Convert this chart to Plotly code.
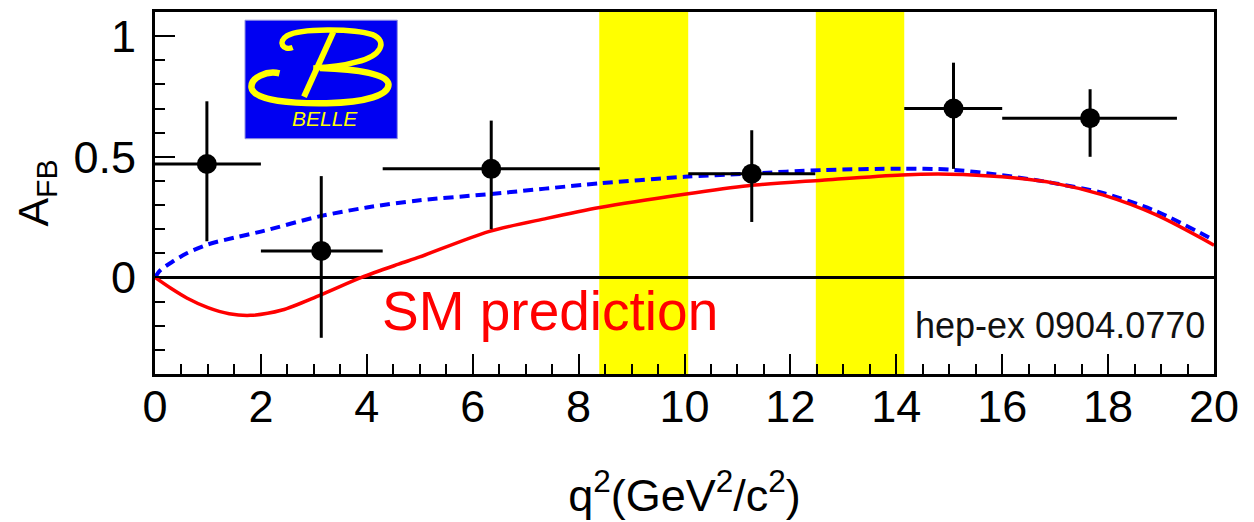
import plotly.graph_objects as go

# Forward-backward asymmetry in B -> K* l+ l- (Belle), binned in q^2
q2_center = [0.98, 3.14, 6.35, 11.27, 15.08, 17.66]
q2_low = [0.0, 2.0, 4.3, 10.07, 14.15, 16.0]
q2_high = [2.0, 4.3, 8.4, 12.47, 16.0, 19.3]
afb = [0.47, 0.11, 0.45, 0.43, 0.70, 0.66]
afb_err_up = [0.26, 0.31, 0.20, 0.18, 0.19, 0.12]
afb_err_down = [0.32, 0.36, 0.25, 0.20, 0.25, 0.16]

# Standard Model prediction
sm_q2 = [0.0, 0.3, 0.6, 1.0, 1.4, 1.8, 2.4, 3.1, 3.9, 4.6, 5.0, 6.3, 7.4, 8.4,
         10.0, 11.2, 12.6, 14.1, 15.0, 16.0, 17.0, 17.9, 18.9, 20.0]
sm_afb = [0.0, -0.045, -0.085, -0.125, -0.15, -0.157, -0.135, -0.075, 0.0, 0.055,
          0.085, 0.19, 0.245, 0.29, 0.345, 0.38, 0.403, 0.425, 0.428, 0.417,
          0.39, 0.342, 0.26, 0.134]

# Flipped-sign C7 hypothesis
alt_q2 = [0.0, 0.1, 0.35, 0.6, 1.0, 1.5, 2.0, 3.1, 4.0, 5.0, 6.3, 8.4, 10.0,
          11.2, 12.6, 14.1, 15.0, 16.0, 17.0, 17.9, 18.9, 20.0]
alt_afb = [0.0, 0.03, 0.068, 0.10, 0.137, 0.165, 0.19, 0.253, 0.29, 0.32, 0.345,
           0.39, 0.417, 0.43, 0.445, 0.451, 0.447, 0.424, 0.39, 0.35, 0.275, 0.155]

# Charmonium veto windows (J/psi, psi')
veto_bands = [(8.39, 10.07), (12.48, 14.15)]

x_tick_vals = [0, 2, 4, 6, 8, 10, 12, 14, 16, 18, 20]
y_tick_vals = [0, 0.5, 1]
y_tick_text = ["0", "0.5", "1"]

FONT = "Liberation Sans, Arial, Helvetica, sans-serif"

fig = go.Figure()

fig.add_trace(go.Scatter(
    x=alt_q2, y=alt_afb, mode="lines",
    line=dict(color="#0000ff", width=4, dash="10px,6px", shape="spline", smoothing=0.8),
    hoverinfo="skip", showlegend=False,
))
fig.add_trace(go.Scatter(
    x=sm_q2, y=sm_afb, mode="lines",
    line=dict(color="#ff0000", width=3.5, shape="spline", smoothing=0.8),
    hoverinfo="skip", showlegend=False,
))

err_x_plus = [h - c for h, c in zip(q2_high, q2_center)]
err_x_minus = [c - l for c, l in zip(q2_center, q2_low)]
fig.add_trace(go.Scatter(
    x=q2_center, y=afb, mode="markers",
    marker=dict(color="black", size=20),
    error_x=dict(type="data", symmetric=False, array=err_x_plus, arrayminus=err_x_minus,
                 color="black", thickness=3, width=0),
    error_y=dict(type="data", symmetric=False, array=afb_err_up, arrayminus=afb_err_down,
                 color="black", thickness=3, width=0),
    showlegend=False,
))

shapes = []
for lo, hi in veto_bands:
    shapes.append(dict(type="rect", xref="x", yref="paper", x0=lo, x1=hi, y0=0, y1=1,
                       fillcolor="#ffff00", line=dict(width=0), layer="below"))

# Belle logo: blue panel with the stylised yellow "B"
LOGO_X0, LOGO_X1 = 1.70, 4.575
LOGO_Y0, LOGO_Y1 = 0.575, 1.066
LOGO_W, LOGO_H = 152.3, 119.3


def lx(d):
    return LOGO_X0 + d / LOGO_W * (LOGO_X1 - LOGO_X0)


def ly(d):
    return LOGO_Y1 - d / LOGO_H * (LOGO_Y1 - LOGO_Y0)


def logo_path(start, curves):
    s = f"M {lx(start[0])},{ly(start[1])}"
    for seg in curves:
        s += " C " + " ".join(f"{lx(a)},{ly(b)}" for a, b in seg)
    return s


shapes.append(dict(type="rect", xref="x", yref="y", x0=LOGO_X0, x1=LOGO_X1,
                   y0=LOGO_Y0, y1=LOGO_Y1, fillcolor="#0000f2",
                   line=dict(color="#9090e0", width=1), layer="above"))

top_loop = logo_path((47.7, 27.5), [
    [(38.3, 31.0), (32.0, 22.0), (42.3, 15.5)],
    [(55, 8.0), (108.3, 8.0), (127.5, 14.5)],
    [(143.0, 21.0), (137, 36), (111.7, 42)],
    [(98.3, 46), (81.7, 47.7), (68.3, 48)],
])
bottom_loop = logo_path((34.5, 53.5), [
    [(21.7, 50.5), (5.5, 57.7), (6.5, 67.7)],
    [(8.5, 81.5), (48.3, 84.0), (81.7, 83.5)],
    [(121.7, 83), (144.5, 75), (143.5, 64.3)],
    [(142.5, 54.3), (115, 49.3), (75, 48)],
])
stem = f"M {lx(88.3)},{ly(12.0)} L {lx(59)},{ly(77)}"
for p, w in [(top_loop, 5.5), (bottom_loop, 6.5), (stem, 6)]:
    shapes.append(dict(type="path", xref="x", yref="y", path=p,
                       line=dict(color="#ffff00", width=w), layer="above"))

annotations = [
    dict(x=(LOGO_X0 + LOGO_X1) / 2 + 0.08, y=ly(99.3), xref="x", yref="y",
         text="<i>BELLE</i>", showarrow=False,
         font=dict(family=FONT, size=21, color="#ffff00")),
    dict(x=7.46, y=-0.14, xref="x", yref="y", text="SM prediction", showarrow=False,
         font=dict(family=FONT, size=55, color="#ff0000")),
    dict(x=17.1, y=-0.2, xref="x", yref="y", text="hep-ex 0904.0770", showarrow=False,
         font=dict(family=FONT, size=36, color="#111111")),
]

fig.update_layout(
    width=1254, height=522,
    margin=dict(l=155, r=40, t=9, b=148),
    paper_bgcolor="white", plot_bgcolor="white",
    font=dict(family=FONT, color="black"),
    shapes=shapes, annotations=annotations,
    xaxis=dict(
        range=[0, 20], showgrid=False, zeroline=False,
        showline=True, linecolor="black", linewidth=3, mirror=True,
        tickmode="array", tickvals=x_tick_vals,
        ticks="inside", ticklen=20, tickwidth=2, tickcolor="black",
        minor=dict(dtick=0.5, ticks="inside", ticklen=10, tickwidth=2, tickcolor="black"),
        tickfont=dict(size=45, family=FONT, color="black"),
        ticklabelstandoff=-9,
        title=dict(text="q<sup>2</sup>(GeV<sup>2</sup>/c<sup>2</sup>)",
                   font=dict(size=45, family=FONT, color="black"), standoff=49),
    ),
    yaxis=dict(
        range=[-0.4, 1.1], showgrid=False,
        zeroline=True, zerolinecolor="black", zerolinewidth=2.5,
        showline=True, linecolor="black", linewidth=3, mirror=True,
        tickmode="array", tickvals=y_tick_vals, ticktext=y_tick_text,
        ticks="inside", ticklen=20, tickwidth=2, tickcolor="black",
        minor=dict(dtick=0.1, ticks="inside", ticklen=10, tickwidth=2, tickcolor="black"),
        tickfont=dict(size=45, family=FONT, color="black"),
        ticklabelstandoff=7,
        title=dict(text="A<sub>FB</sub>", font=dict(size=43, family=FONT, color="black"),
                   standoff=12),
    ),
)

fig.write_html("out.html")
